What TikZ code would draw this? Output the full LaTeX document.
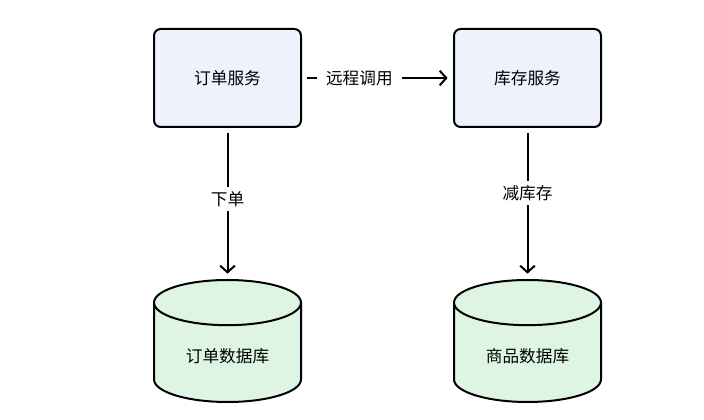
\documentclass[tikz,border=0pt]{standalone}
\usepackage{fontspec}
\setmainfont{Noto Sans CJK SC}
\usetikzlibrary{positioning, shapes.geometric, arrows.meta}

\definecolor{svcfill}{RGB}{238,242,252}
\definecolor{dbfill}{RGB}{222,245,228}

\begin{document}
\begin{tikzpicture}[
    x=0.75pt, y=-0.75pt,
    node distance=113.25pt,
    font=\fontsize{12.5}{15}\selectfont,
    service/.style={
        rectangle,
        draw=black,
        line width=1.5pt,
        fill=svcfill,
        rounded corners=5pt,
        minimum width=110.25pt,
        minimum height=73.5pt
    },
    store/.style={
        cylinder,
        shape border rotate=90,
        draw=black,
        line width=1.5pt,
        fill=dbfill,
        aspect=0.49,
        minimum width=110.25pt,
        minimum height=91.5pt
    },
    link/.style={-{Straight Barb[length=5pt, width=11pt]}, line width=1.5pt, shorten >=4pt, shorten <=4pt},
    tag/.style={fill=white, inner xsep=7pt, inner ysep=3pt}
]
\useasboundingbox (0,0) rectangle (704,420);

% services on top, databases below
\node[service] (order) at (227.5,78) {订单服务};
\node[service, right=of order] (stock) {库存服务};
\node[store, below=of order] (orderdb) {订单数据库};
\node[store, below=of stock] (goodsdb) {商品数据库};

\draw[link] (order) -- node[tag, pos=0.38] {远程调用} (stock);
\draw[link] (order) -- node[tag, pos=0.47] {下单} (orderdb);
\draw[link] (stock) -- node[tag, pos=0.43] {减库存} (goodsdb);

\end{tikzpicture}
\end{document}
